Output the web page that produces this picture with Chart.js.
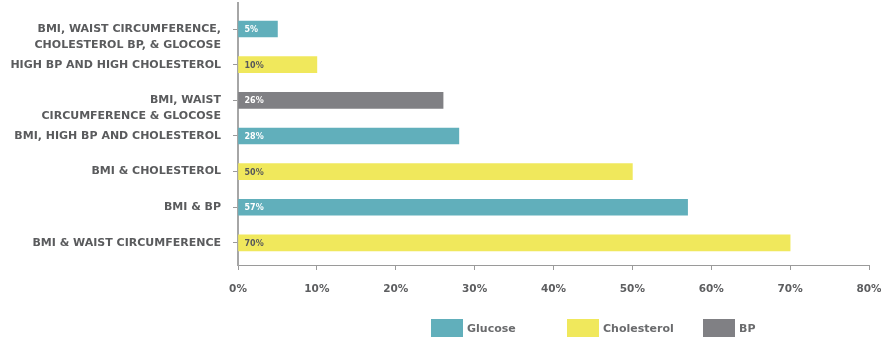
<!DOCTYPE html>
<html>
<head>
<meta charset="utf-8">
<script src="https://cdn.jsdelivr.net/npm/chart.js@4/dist/chart.umd.min.js"></script>
<style>
  body { margin: 0; background: #fff; }
  .wrap { position: relative; width: 881px; height: 341px; }
  .leyenda {
    position: absolute; left: 431px; top: 319px;
    display: flex; font: bold 11px "DejaVu Sans", sans-serif; color: #6a6b6d;
  }
  .leyenda div { width: 136px; display: flex; align-items: center; }
  .leyenda span { display: inline-block; width: 32px; height: 18px; margin-right: 4px; }
</style>
</head>
<body>
<div class="wrap">
  <canvas id="grafico" width="881" height="341"></canvas>
  <div class="leyenda"></div>
</div>
<script>
// combinaciones de factores de riesgo (porcentaje)
const categorias = [
  ['BMI, WAIST CIRCUMFERENCE,', 'CHOLESTEROL BP, & GLOCOSE'],
  ['HIGH BP AND HIGH CHOLESTEROL'],
  ['BMI, WAIST', 'CIRCUMFERENCE & GLOCOSE'],
  ['BMI, HIGH BP AND CHOLESTEROL'],
  ['BMI & CHOLESTEROL'],
  ['BMI & BP'],
  ['BMI & WAIST CIRCUMFERENCE']
]
const glucose     = [5, null, null, 28, null, 57, null]
const cholesterol = [null, 10, null, null, 50, null, 70]
const bp          = [null, null, 26, null, null, null, null]
const ticksX = [0, 10, 20, 30, 40, 50, 60, 70, 80]

const series = [
  { label: 'Glucose', data: glucose, color: '#61afbb', texto: '#ffffff' },
  { label: 'Cholesterol', data: cholesterol, color: '#f0e85c', texto: '#57585a' },
  { label: 'BP', data: bp, color: '#808084', texto: '#ffffff' }
]

function puntos(arr) {
  let res = []
  for (let i = 0; i < arr.length; i++) {
    if (arr[i] !== null) res.push({ x: arr[i], y: i })
  }
  return res
}

// etiqueta con el valor dentro de cada barra
const etiquetas = {
  id: 'etiquetas',
  afterDatasetsDraw(chart) {
    const ctx = chart.ctx
    ctx.save()
    ctx.font = 'bold 8px "DejaVu Sans", sans-serif'
    ctx.textBaseline = 'middle'
    ctx.textAlign = 'left'
    chart.data.datasets.forEach((ds, i) => {
      chart.getDatasetMeta(i).data.forEach((bar, j) => {
        ctx.fillStyle = series[i].texto
        ctx.fillText(ds.data[j].x + '%', bar.base + 6, bar.y + 1)
      })
    })
    ctx.restore()
  }
}

const fuente = { family: '"DejaVu Sans", sans-serif', weight: 'bold', size: 11 }

new Chart(document.getElementById('grafico'), {
  type: 'bar',
  data: {
    datasets: series.map(s => ({
      label: s.label,
      data: puntos(s.data),
      backgroundColor: s.color,
      barThickness: 16,
      grouped: false
    }))
  },
  options: {
    indexAxis: 'y',
    responsive: false,
    animation: false,
    layout: { padding: { top: 3, right: 12, bottom: 0, left: 0 } },
    plugins: { legend: { display: false }, tooltip: { enabled: false } },
    scales: {
      x: {
        type: 'linear',
        min: 0,
        max: 80,
        afterBuildTicks: s => { s.ticks = ticksX.map(v => ({ value: v })) },
        afterFit: s => {
          s.height = 76
          s.paddingLeft = 0
          s.paddingRight = 0
        },
        ticks: { callback: v => v + '%', font: { ...fuente, size: 10.5 }, color: '#5d5e60', padding: 13 },
        grid: { drawOnChartArea: false, color: '#9a9a9a', tickLength: 5 },
        border: { color: '#9a9a9a', width: 1 }
      },
      y: {
        type: 'linear',
        reverse: true,
        offset: false,
        min: -0.73,
        max: 6.62,
        afterBuildTicks: s => { s.ticks = categorias.map((c, i) => ({ value: i })) },
        afterFit: s => {
          s.width = 238
          s.paddingTop = 0
          s.paddingBottom = 0
        },
        ticks: {
          autoSkip: false,
          callback: v => {
            const lineas = categorias[v]
            // la primera linea queda a la altura de la barra
            return lineas.length > 1 ? [''].concat(lineas) : lineas[0]
          },
          font: { ...fuente, lineHeight: 1.45 },
          color: '#5a5b5d',
          padding: 12
        },
        grid: { offset: false, drawOnChartArea: false, color: '#9a9a9a', tickLength: 5 },
        border: { color: '#a6a6a6', width: 2 }
      }
    }
  },
  plugins: [etiquetas]
})

const leyenda = document.querySelector('.leyenda')
for (const s of series) {
  const item = document.createElement('div')
  item.innerHTML = '<span style="background:' + s.color + '"></span>' + s.label
  leyenda.appendChild(item)
}
</script>
</body>
</html>
